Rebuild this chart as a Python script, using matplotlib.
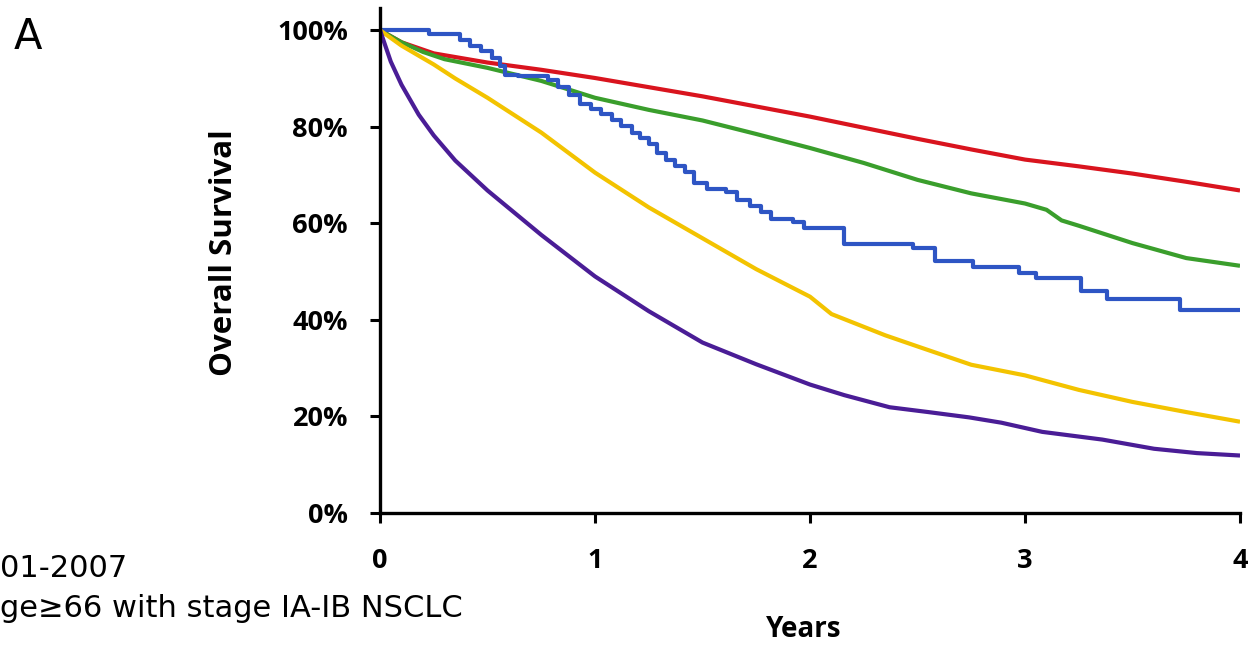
import matplotlib
matplotlib.use("Agg")
import matplotlib.pyplot as plt

# Kaplan-Meier style overall survival curves (years vs % surviving)
t_red = [0, 0.1, 0.25, 0.5, 0.75, 1.0, 1.25, 1.5, 1.75, 2.0, 2.25, 2.5, 2.75, 3.0, 3.25, 3.5, 3.75, 4.0]
s_red = [100, 97.5, 95.2, 93.3, 91.8, 90.1, 88.2, 86.3, 84.2, 82.1, 79.8, 77.5, 75.3, 73.2, 71.8, 70.3, 68.6, 66.8]

t_green = [0, 0.1, 0.2, 0.3, 0.5, 0.75, 1.0, 1.25, 1.5, 1.75, 2.0, 2.25, 2.5, 2.75, 3.0, 3.1, 3.17,
           3.25, 3.5, 3.75, 4.0]
s_green = [100, 97.5, 95.5, 94.0, 92.2, 89.5, 86.0, 83.5, 81.3, 78.5, 75.6, 72.5, 69.0, 66.2, 64.1, 62.8,
           60.6, 59.5, 55.9, 52.8, 51.2]

t_blue = [0, 0.23, 0.37, 0.42, 0.47, 0.52, 0.56, 0.58, 0.64, 0.78, 0.83, 0.88, 0.93, 0.98, 1.03, 1.08,
          1.12, 1.17, 1.21, 1.25, 1.29, 1.33, 1.37, 1.42, 1.46, 1.52, 1.61, 1.66, 1.72, 1.77, 1.82, 1.92,
          1.97, 2.16, 2.48, 2.58, 2.76, 2.97, 3.05, 3.26, 3.38, 3.72, 4.0]
s_blue = [100, 99.3, 98.0, 96.8, 95.6, 94.2, 92.5, 90.8, 90.5, 89.6, 88.2, 86.5, 84.8, 83.6, 82.6, 81.3,
          80.2, 78.8, 77.6, 76.4, 74.5, 73.2, 71.9, 70.6, 68.4, 67.2, 66.4, 64.8, 63.6, 62.4, 60.8, 60.2,
          59.0, 55.7, 54.8, 52.2, 51.0, 49.8, 48.6, 46.0, 44.3, 42.0, 42.0]

t_yellow = [0, 0.1, 0.25, 0.35, 0.5, 0.75, 1.0, 1.25, 1.5, 1.75, 2.0, 2.1, 2.35, 2.5, 2.75, 3.0, 3.25,
            3.5, 3.75, 4.0]
s_yellow = [100, 96.8, 92.9, 90.0, 86.0, 78.8, 70.5, 63.3, 56.9, 50.5, 44.8, 41.2, 36.8, 34.5, 30.7, 28.5,
            25.5, 23.0, 20.9, 18.9]

t_purple = [0, 0.05, 0.1, 0.18, 0.25, 0.35, 0.5, 0.75, 1.0, 1.25, 1.5, 1.75, 2.0, 2.16, 2.37, 2.55, 2.74,
            2.89, 3.08, 3.36, 3.6, 3.8, 4.0]
s_purple = [100, 93.5, 88.7, 82.5, 78.2, 73.0, 66.8, 57.6, 49.0, 41.8, 35.3, 30.8, 26.6, 24.4, 21.9, 20.9,
            19.8, 18.7, 16.8, 15.2, 13.3, 12.4, 11.9]

y_ticks = [0, 20, 40, 60, 80, 100]
x_ticks = [0, 1, 2, 3, 4]

W, H = 1248, 645
fig = plt.figure(figsize=(W / 100, H / 100), dpi=100)
ax = fig.add_axes([0.3045, 0.2047, 0.6891, 0.7829])

lw = 3.0
ax.plot(t_red, s_red, color="#D9141E", lw=lw, solid_capstyle="butt")
ax.plot(t_green, s_green, color="#3A9E2C", lw=lw, solid_capstyle="butt")
ax.plot(t_blue, s_blue, color="#2E55C4", lw=lw, drawstyle="steps-post")
ax.plot(t_yellow, s_yellow, color="#F3C300", lw=lw, solid_capstyle="butt")
ax.plot(t_purple, s_purple, color="#4A1D96", lw=lw, solid_capstyle="butt")

ax.set_xlim(0, 4)
ax.set_ylim(0, 104.6)

for side in ["top", "right"]:
    ax.spines[side].set_visible(False)
for side in ["left", "bottom"]:
    ax.spines[side].set_linewidth(2.4)
    ax.spines[side].set_color("black")

ax.set_yticks(y_ticks)
ax.set_yticklabels([f"{v}%" for v in y_ticks])
ax.set_xticks(x_ticks)
ax.set_xticklabels([str(v) for v in x_ticks])
ax.tick_params(axis="both", direction="out", length=7, width=2.2, colors="black")
ax.tick_params(axis="y", pad=16)
ax.tick_params(axis="x", pad=18)
for lab in ax.get_xticklabels() + ax.get_yticklabels():
    lab.set_fontfamily("Open Sans")
    lab.set_fontweight("bold")
    lab.set_fontsize(19.5)

# axis titles placed in figure pixels
fig.text(224.5 / W, 1 - 253 / H, "Overall Survival", rotation=90, ha="center", va="center",
         fontfamily="Open Sans", fontweight="bold", fontsize=22.5)
fig.text(804 / W, 1 - 637 / H, "Years", ha="center", va="baseline",
         fontfamily="Open Sans", fontweight="bold", fontsize=20)

fig.text(28 / W, 1 - 37 / H, "A", fontfamily="DejaVu Sans", fontsize=30, ha="center", va="center")
fig.text(0.0, 1 - 577 / H, "01-2007", fontfamily="DejaVu Sans", fontsize=22, ha="left", va="baseline")
fig.text(0.0, 1 - 617 / H, "ge\u226566 with stage IA-IB NSCLC", fontfamily="DejaVu Sans", fontsize=22,
         ha="left", va="baseline")

fig.savefig("out.png", dpi=100)
